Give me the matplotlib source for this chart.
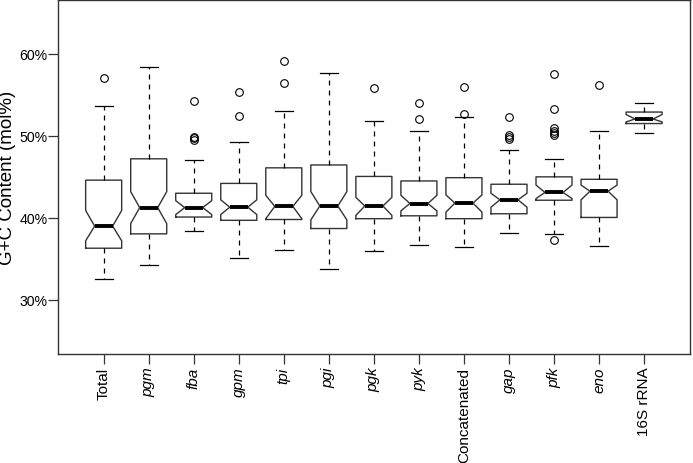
import matplotlib
matplotlib.use("Agg")
import matplotlib.pyplot as plt

plt.rcParams['font.family'] = ['Liberation Sans', 'DejaVu Sans']

# box statistics (G+C %)
labels = ['Total', 'pgm', 'fba', 'gpm', 'tpi', 'pgi', 'pgk', 'pyk',
          'Concatenated', 'gap', 'pfk', 'eno', '16S rRNA']
italic = [False, True, True, True, True, True, True, True,
          False, True, True, True, False]
whislo = [32.5, 34.2, 38.4, 35.1, 36.1, 33.8, 35.9, 36.7, 36.4, 38.1, 38.0, 36.6, 50.3]
q1 = [36.3, 38.05, 40.1, 39.7, 39.8, 38.7, 39.9, 40.25, 39.9, 40.5, 42.15, 40.05, 51.5]
med = [39.0, 41.25, 41.25, 41.3, 41.4, 41.45, 41.45, 41.75, 41.8, 42.2, 43.1, 43.25, 52.05]
q3 = [44.6, 47.2, 43.0, 44.2, 46.1, 46.45, 45.05, 44.5, 44.9, 44.1, 45.0, 44.7, 52.9]
whishi = [53.6, 58.45, 47.1, 49.3, 53.05, 57.7, 51.8, 50.6, 52.25, 48.3, 47.2, 50.6, 54.0]
cilo = [37.2, 39.3, 40.4, 40.4, 39.9, 39.75, 40.3, 40.85, 40.7, 41.3, 42.35, 42.2, 51.7]
cihi = [40.9, 43.2, 42.1, 42.2, 42.75, 43.2, 42.5, 42.75, 42.8, 43.0, 44.0, 44.0, 52.6]
fliers = [[57.0], [], [54.2, 49.9, 49.7, 49.5], [55.4, 52.4], [59.1, 56.4], [],
          [55.8], [54.0, 52.0], [55.9, 52.7], [52.25, 50.1, 49.9, 49.65],
          [57.5, 53.3, 50.95, 50.6, 50.3, 50.1, 37.3], [56.2], []]

stats = []
for i in range(len(labels)):
    stats.append(dict(label=labels[i], whislo=whislo[i], q1=q1[i], med=med[i],
                      q3=q3[i], whishi=whishi[i], cilo=cilo[i], cihi=cihi[i],
                      fliers=fliers[i]))

fig = plt.figure(figsize=(6.93, 4.64), dpi=100)
ax = fig.add_axes([0.0833, 0.2349, 0.9124, 0.7636])

ax.bxp(stats, positions=range(1, len(labels) + 1), widths=0.8, shownotches=True,
       boxprops=dict(color='#333333', linewidth=1.0),
       medianprops=dict(color='black', linewidth=2.8),
       whiskerprops=dict(color='black', linewidth=0.9, linestyle=(0, (4, 4))),
       capprops=dict(color='black', linewidth=0.9),
       flierprops=dict(marker='o', markerfacecolor='none', markeredgecolor='black',
                       markersize=5.5, markeredgewidth=0.8))

ax.set_xlim(-0.02, 14.02)
ax.set_ylim(23.4, 66.6)
ax.set_yticks([30, 40, 50, 60])
ax.set_yticklabels(['30%', '40%', '50%', '60%'], fontsize=10.2)
ax.set_xticks(range(1, len(labels) + 1))
ax.set_xticklabels(labels, rotation=90, fontsize=11)
for t, it in zip(ax.get_xticklabels(), italic):
    if it:
        t.set_fontstyle('italic')
ax.tick_params(direction='out', length=7, width=0.9, color='#333333')
ax.tick_params(axis='y', pad=0.5)
ax.tick_params(axis='x', pad=2)
ax.set_ylabel('G+C Content (mol%)', fontsize=13.5)
ax.yaxis.set_label_coords(-0.066, 0.5)
for s in ax.spines.values():
    s.set_color('#333333')
    s.set_linewidth(1.0)

fig.savefig('out.png', dpi=100)
